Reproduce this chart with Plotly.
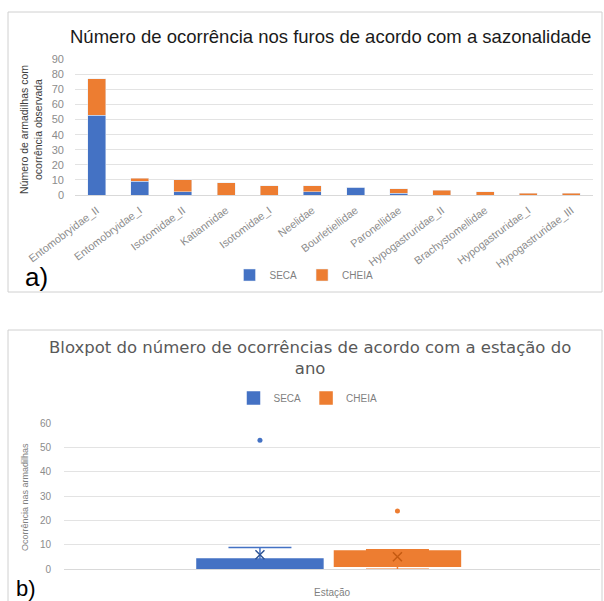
import plotly.graph_objects as go
import numpy as np

# ---------------- data ----------------
families = ["Entomobryidae_II", "Entomobryidae_I", "Isotomidae_II", "Katiannidae",
            "Isotomidae_I", "Neelidae", "Bourletiellidae", "Paronellidae",
            "Hypogastruridae_II", "Brachystomellidae", "Hypogastruridae_I",
            "Hypogastruridae_III"]
seca = [53, 9, 2, 0, 0, 2, 5, 1, 0, 0, 0, 0]
cheia = [24, 2, 8, 8, 6, 4, 0, 3, 3, 2, 1, 1]

title_a = "Número de ocorrência nos furos de acordo com a sazonalidade"
title_b = "Bloxpot do número de ocorrências de acordo com a estação do<br>ano"
ytitle_a = "Número de armadilhas com<br>ocorrência observada"
ytitle_b = "Ocorrência nas armadilhas"
xlabel_b = "Estação"

BLUE = "#4472C4"
ORANGE = "#ED7D31"
W, H = 604, 601


def px_x(p):
    return p / W


def px_y(p):
    return 1 - p / H


def box_stats(vals):
    v = np.asarray(vals, dtype=float)
    q1, med, q3 = np.percentile(v, [25, 50, 75], method="weibull")
    iqr = q3 - q1
    inside = v[(v >= q1 - 1.5 * iqr) & (v <= q3 + 1.5 * iqr)]
    out = v[(v < q1 - 1.5 * iqr) | (v > q3 + 1.5 * iqr)]
    return dict(q1=q1, med=med, q3=q3, lo=inside.min(), hi=inside.max(),
                mean=v.mean(), out=out)


FONT = "Liberation Sans"

fig = go.Figure()

# ---- panel a: stacked bars ----
fig.add_trace(go.Bar(x=families, y=seca, name="SECA", marker_color=BLUE,
                     xaxis="x", yaxis="y", legend="legend"))
fig.add_trace(go.Bar(x=families, y=cheia, name="CHEIA", marker_color=ORANGE,
                     xaxis="x", yaxis="y", legend="legend"))

# ---- panel b: box plots (Excel-style exclusive quartiles) ----
for name, vals, col, dark in [("SECA", seca, BLUE, "#2F5597"),
                              ("CHEIA", cheia, ORANGE, "#C55A11")]:
    s = box_stats(vals)
    fig.add_trace(go.Box(x=[name], q1=[s["q1"]], median=[s["med"]], q3=[s["q3"]],
                         lowerfence=[s["lo"]], upperfence=[s["hi"]], name=name,
                         xaxis="x2", yaxis="y2", boxpoints=False,
                         fillcolor=col, line=dict(color=col, width=1.5),
                         width=0.916, whiskerwidth=0.5, legend="legend2"))
    fig.add_trace(go.Scatter(x=[name] * len(s["out"]), y=s["out"], mode="markers",
                             xaxis="x2", yaxis="y2", showlegend=False,
                             marker=dict(color=col, size=5)))
    fig.add_trace(go.Scatter(x=[name], y=[s["mean"]], mode="markers",
                             xaxis="x2", yaxis="y2", showlegend=False,
                             marker=dict(symbol="x-thin-open", size=9, color=dark,
                                         line=dict(color=dark, width=1.5))))

grid = "#E3E3E3"


def ann(text, x, y, size, color, family=FONT, angle=0, xref="paper"):
    return dict(text=text, xref=xref, yref="paper", x=x, y=y, xanchor="center",
                yanchor="middle", showarrow=False, textangle=angle,
                font=dict(size=size, color=color, family=family))


fig.update_layout(
    width=W, height=H, margin=dict(l=0, r=0, t=0, b=0, autoexpand=False),
    paper_bgcolor="white", plot_bgcolor="white",
    barmode="stack", bargap=0.58, boxmode="overlay",
    font=dict(family=FONT, color="#7F7F7F"),
    xaxis=dict(domain=[px_x(75), px_x(593)], anchor="y", tickangle=-37,
               tickfont=dict(size=10.8, color="#8C8C8C"), showgrid=False,
               showline=True, linecolor="#D9D9D9", ticks="", automargin=False,
               ticklabelstandoff=4),
    yaxis=dict(domain=[px_y(195), px_y(59.3)], anchor="x", range=[0, 90],
               dtick=10, gridcolor=grid, zeroline=False, automargin=False,
               tickfont=dict(size=11, color="#8C8C8C"), ticks="",
               ticklabelstandoff=10),
    xaxis2=dict(domain=[px_x(64), px_x(600)], anchor="y2", type="category",
                range=[-1.425, 2.473], showticklabels=False, showgrid=False,
                showline=True, linecolor="#D9D9D9", ticks="", automargin=False),
    yaxis2=dict(domain=[px_y(569.3), px_y(423.3)], anchor="x2", range=[0, 60],
                dtick=10, gridcolor=grid, zeroline=False, automargin=False,
                tickfont=dict(size=10, color="#8C8C8C"), ticks="",
                ticklabelstandoff=12),
    legend=dict(orientation="h", x=px_x(304), xanchor="center", traceorder="normal",
                y=px_y(275), yanchor="middle", font=dict(size=10, color="#7F7F7F"),
                bgcolor="rgba(0,0,0,0)", itemwidth=30),
    legend2=dict(orientation="h", x=px_x(308), xanchor="center", traceorder="normal",
                 y=px_y(398), yanchor="middle", font=dict(size=10, color="#7F7F7F"),
                 bgcolor="rgba(0,0,0,0)", itemwidth=30),
    shapes=[
        dict(type="rect", xref="paper", yref="paper", x0=px_x(8), x1=px_x(602),
             y0=px_y(292), y1=px_y(12), line=dict(color="#D0D0D0", width=1)),
        dict(type="rect", xref="paper", yref="paper", x0=px_x(8), x1=px_x(602),
             y0=px_y(605), y1=px_y(330), line=dict(color="#D0D0D0", width=1)),
    ],
    annotations=[
        ann(title_a, px_x(330), px_y(37), 18.5, "#1A1A1A"),
        ann(title_b, px_x(310), px_y(358), 16.5, "#595959", family="DejaVu Sans"),
        ann(ytitle_a, px_x(31), px_y(130), 10.5, "#404040", angle=-90),
        ann(ytitle_b, px_x(25), px_y(497), 9, "#7F7F7F", angle=-90),
        ann(xlabel_b, px_x(332), px_y(592), 10, "#7F7F7F"),
        ann("a)", px_x(36), px_y(277), 26, "#000000"),
        ann("b)", px_x(26), px_y(588), 22, "#000000"),
    ],
)

fig.write_html("out.html", config={"displayModeBar": False},
               post_script="document.body.style.margin='0px';")
